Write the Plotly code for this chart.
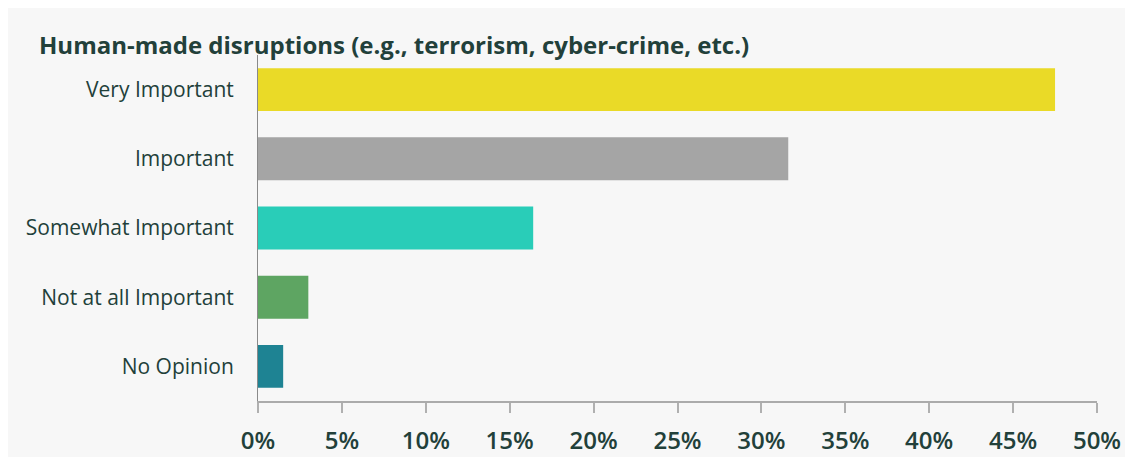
import plotly.graph_objects as go

categories = ["Very Important", "Important", "Somewhat Important", "Not at all Important", "No Opinion"]
values = [47.5, 31.6, 16.4, 3.0, 1.5]
colors = ["#EADA27", "#A5A5A5", "#29CDB8", "#5EA562", "#1E8393"]
x_ticks = list(range(0, 55, 5))
title_text = "Human-made disruptions (e.g., terrorism, cyber-crime, etc.)"

text_color = "#22403A"
# page body has an 8px margin, so the figure sits at (8, 8)
W, H = 1125, 449
L, R, T, B = 250, 36, 47, 56
pw, ph = W - L - R, H - T - B

fig = go.Figure(go.Bar(
    x=values, y=categories, orientation="h",
    marker=dict(color=colors, line=dict(width=0)),
    width=0.62, hoverinfo="x+y",
))

fig.update_layout(
    width=W, height=H,
    margin=dict(l=L, r=R, t=T, b=B),
    paper_bgcolor="#F7F7F7",
    plot_bgcolor="#F7F7F7",
    showlegend=False,
    font=dict(family="Open Sans", color=text_color),
    annotations=[dict(
        text="<b>" + title_text + "</b>", xref="paper", yref="paper",
        x=(29 - L) / pw, y=1 + (T - 36) / ph, xanchor="left", yanchor="middle",
        showarrow=False, font=dict(size=24, color=text_color),
    )],
)

fig.update_xaxes(
    range=[0, 50], tickvals=x_ticks, ticktext=[f"{v}%" for v in x_ticks],
    showgrid=False, zeroline=False, automargin=False,
    showline=True, linecolor="#ABABAB", linewidth=1.5,
    ticks="outside", ticklen=10, tickwidth=1.5, tickcolor="#B0B0B0",
    tickfont=dict(size=24, weight=600, color=text_color),
    ticklabelstandoff=7,
)
fig.update_yaxes(
    autorange="reversed", showgrid=False, zeroline=False, automargin=False,
    showline=True, linecolor="#8A8A8A", linewidth=1,
    ticks="outside", ticklen=19, tickcolor="rgba(0,0,0,0)",
    tickfont=dict(size=21, color=text_color),
)

fig.write_html("out.html")
